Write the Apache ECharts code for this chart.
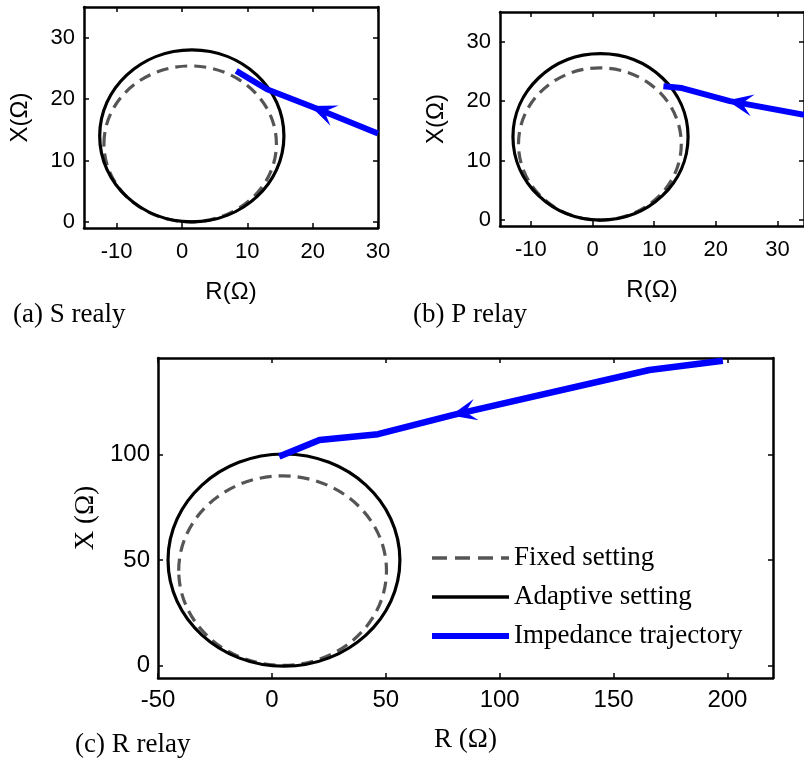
<!DOCTYPE html>
<html>
<head>
<meta charset="utf-8">
<script src="https://cdn.jsdelivr.net/npm/echarts@6/dist/echarts.min.js"></script>
<style>
html, body { margin: 0; padding: 0; background: #fff; }
#chart { width: 804px; height: 764px; }
</style>
</head>
<body>
<div id="chart"></div>
<script>
// ---------- data ----------
const xTicksA = [-10, 0, 10, 20, 30];
const yTicksA = [0, 10, 20, 30];
const xTicksB = [-10, 0, 10, 20, 30];
const yTicksB = [0, 10, 20, 30];
const xTicksC = [-50, 0, 50, 100, 150, 200];
const yTicksC = [0, 50, 100];

// circle = [centerR, centerX, radiusR, radiusX]
const fixedA = [[1.25, 12.7, 13.2, 12.7]];
const adaptiveA = [[1.5, 14.0, 14.1, 14.0]];
const fixedB = [[1.2, 12.8, 13.2, 12.8]];
const adaptiveB = [[1.3, 14.0, 14.2, 14.0]];
const fixedC = [[4.7, 45.0, 45.6, 45.0]];
const adaptiveC = [[5.3, 50.0, 50.9, 50.4]];

// impedance trajectories (start -> end)
const trajA = [[30, 14.4], [20, 18.7], [13, 21.6], [8.3, 24.6]];
const trajB = [[34.3, 17.7], [22.3, 20.0], [14.5, 22.2], [11.5, 22.5]];
const trajC = [[198, 144.7], [165.7, 140.3], [79.7, 119], [46.6, 109.8], [20.9, 107.1], [3.2, 99.2]];

// arrow head positions (centre of head)
const arrowA = [[21.5, 18.1]];
const arrowB = [[23.9, 19.7]];
const arrowC = [[84.1, 120.1]];

const legendNames = ['Fixed setting', 'Adaptive setting', 'Impedance trajectory'];
const captions = ['(a) S realy', '(b) P relay', '(c) R relay'];

// ---------- styles ----------
const SANS = "'Liberation Sans', Arial, sans-serif";
const SERIF = "'Liberation Serif', 'Times New Roman', serif";
const GRAY = '#555555';
const BLUE = '#0000ff';
const DASH = [12, 7];
const AXW = 2.5;

const chart = echarts.init(document.getElementById('chart'), null, { renderer: 'canvas' });

function xAx(grid, min, max, ticks, opts) {
  const main = {
    type: 'value', gridIndex: grid, position: 'bottom', min: min, max: max,
    axisLine: { show: true, onZero: false, lineStyle: { color: '#000', width: AXW } },
    axisTick: { show: true, inside: true, length: 5, customValues: ticks, lineStyle: { color: '#000', width: 1.5 } },
    axisLabel: { show: true, customValues: ticks, color: '#000', fontFamily: opts.font, fontSize: opts.size, margin: opts.margin },
    splitLine: { show: false },
    name: opts.name, nameLocation: 'middle', nameGap: opts.nameGap,
    nameTextStyle: { color: '#000', fontFamily: opts.nameFont, fontSize: opts.nameSize }
  };
  const top = {
    type: 'value', gridIndex: grid, position: 'top', min: min, max: max,
    axisLine: { show: true, onZero: false, lineStyle: { color: '#000', width: AXW } },
    axisTick: { show: true, inside: true, length: 5, customValues: ticks, lineStyle: { color: '#000', width: 1.5 } },
    axisLabel: { show: false }, splitLine: { show: false }
  };
  return [main, top];
}
function yAx(grid, min, max, ticks, opts) {
  const main = {
    type: 'value', gridIndex: grid, position: 'left', min: min, max: max,
    axisLine: { show: true, onZero: false, lineStyle: { color: '#000', width: AXW } },
    axisTick: { show: true, inside: true, length: 5, customValues: ticks, lineStyle: { color: '#000', width: 1.5 } },
    axisLabel: { show: true, customValues: ticks, color: '#000', fontFamily: opts.font, fontSize: opts.size, margin: opts.margin },
    splitLine: { show: false },
    name: opts.name, nameLocation: 'middle', nameGap: opts.nameGap,
    nameTextStyle: { color: '#000', fontFamily: opts.nameFont, fontSize: opts.nameSize }
  };
  const right = {
    type: 'value', gridIndex: grid, position: 'right', min: min, max: max,
    axisLine: { show: true, onZero: false, lineStyle: { color: '#000', width: AXW } },
    axisTick: { show: true, inside: true, length: 5, customValues: ticks, lineStyle: { color: '#000', width: 1.5 } },
    axisLabel: { show: false }, splitLine: { show: false }
  };
  return [main, right];
}

function circleSeries(name, data, xi, yi, style) {
  return {
    type: 'custom', name: name, xAxisIndex: xi, yAxisIndex: yi, z: 3,
    data: data, encode: { x: 0, y: 1 }, silent: true,
    renderItem: function (params, api) {
      const c = api.coord([api.value(0), api.value(1)]);
      const s = api.size([api.value(2), api.value(3)]);
      return {
        type: 'ellipse',
        shape: { cx: c[0], cy: c[1], rx: s[0], ry: s[1] },
        style: Object.assign({ fill: 'none' }, style)
      };
    }
  };
}
function trajSeries(name, data, xi, yi, w) {
  return {
    type: 'line', name: name, xAxisIndex: xi, yAxisIndex: yi, z: 5,
    data: data, symbol: 'none', clip: true, silent: true,
    lineStyle: { color: BLUE, width: w, cap: 'butt', join: 'round' },
    itemStyle: { color: BLUE }
  };
}
const ARROW = 'path://M10,0 L20,24 L10,14 L0,24 Z';
function arrowSeries(id, data, xi, yi) {
  return {
    type: 'scatter', id: id, xAxisIndex: xi, yAxisIndex: yi, z: 6, silent: true,
    data: data, symbol: ARROW, symbolSize: [22, 26], symbolRotate: 0,
    itemStyle: { color: BLUE, opacity: 1 }
  };
}

const optsAB_x = { font: SANS, size: 22, margin: 13, name: 'R(Ω)', nameGap: 52, nameFont: SANS, nameSize: 24 };
const optsAB_y = { font: SANS, size: 22, margin: 9, name: 'X(Ω)', nameGap: 52, nameFont: SANS, nameSize: 24 };
const optsC_x = { font: SANS, size: 24, margin: 10, name: 'R (Ω)', nameGap: 48, nameFont: SERIF, nameSize: 27 };
const optsC_y = { font: SANS, size: 24, margin: 8, name: 'X (Ω)', nameGap: 57, nameFont: SERIF, nameSize: 27 };

const xAxes = [].concat(
  xAx(0, -15, 30, xTicksA, optsAB_x),
  xAx(1, -15, 34.3, xTicksB, optsAB_x),
  xAx(2, -50, 220, xTicksC, optsC_x)
);
const yAxes = [].concat(
  yAx(0, -1, 35, yTicksA, optsAB_y),
  yAx(1, -1, 35, yTicksB, optsAB_y),
  yAx(2, -6, 146, yTicksC, optsC_y)
);

const fixedStyle = { stroke: GRAY, lineWidth: 3.2, lineDash: DASH };
const adaptiveStyle = { stroke: '#000', lineWidth: 3.2 };

const option = {
  animation: false,
  backgroundColor: '#fff',
  grid: [
    { left: 84, top: 7, width: 294, height: 221, containLabel: false },
    { left: 500, top: 12, width: 306, height: 214, containLabel: false },
    { left: 158, top: 358, width: 615, height: 320, containLabel: false }
  ],
  xAxis: xAxes,
  yAxis: yAxes,
  legend: {
    show: true, orient: 'vertical', left: 424, top: 538, padding: 5,
    itemWidth: 77, itemHeight: 14, itemGap: 9, selectedMode: false,
    textStyle: { color: '#000', fontFamily: SERIF, fontSize: 27, lineHeight: 30 },
    itemStyle: { opacity: 0 },
    data: [
      { name: legendNames[0], lineStyle: { width: 3.5, color: GRAY, type: [15, 8] } },
      { name: legendNames[1], lineStyle: { width: 3.5, color: '#000' } },
      { name: legendNames[2], lineStyle: { width: 6, color: BLUE } }
    ]
  },
  graphic: [
    { type: 'text', left: 13, top: 301, style: { text: captions[0], fill: '#000', font: '27px ' + SERIF } },
    { type: 'text', left: 413, top: 301, style: { text: captions[1], fill: '#000', font: '27px ' + SERIF } },
    { type: 'text', left: 75, top: 731, style: { text: captions[2], fill: '#000', font: '27px ' + SERIF } }
  ],
  series: [
    circleSeries('fixedA', fixedA, 0, 0, fixedStyle),
    circleSeries('adaptiveA', adaptiveA, 0, 0, adaptiveStyle),
    trajSeries('trajA', trajA, 0, 0, 6),
    arrowSeries('arrowA', arrowA, 0, 0),

    circleSeries('fixedB', fixedB, 2, 2, fixedStyle),
    circleSeries('adaptiveB', adaptiveB, 2, 2, adaptiveStyle),
    trajSeries('trajB', trajB, 2, 2, 6),
    arrowSeries('arrowB', arrowB, 2, 2),

    circleSeries('fixedC', fixedC, 4, 4, fixedStyle),
    circleSeries('adaptiveC', adaptiveC, 4, 4, adaptiveStyle),
    trajSeries(legendNames[2], trajC, 4, 4, 6.5),
    arrowSeries('arrowC', arrowC, 4, 4),

    // legend-only entries
    { type: 'line', name: legendNames[0], xAxisIndex: 4, yAxisIndex: 4, data: [], symbol: 'none',
      lineStyle: { color: GRAY, width: 3.5, type: [15, 8] }, itemStyle: { color: GRAY } },
    { type: 'line', name: legendNames[1], xAxisIndex: 4, yAxisIndex: 4, data: [], symbol: 'none',
      lineStyle: { color: '#000', width: 3.5 }, itemStyle: { color: '#000' } }
  ]
};
chart.setOption(option);

// orient arrow heads along the trajectory direction (pixel space)
function arrowAngle(traj, arrow, xi, yi) {
  const a = arrow[0][0];
  let i = 0;
  for (let k = 0; k < traj.length - 1; k++) {
    const lo = Math.min(traj[k][0], traj[k + 1][0]);
    const hi = Math.max(traj[k][0], traj[k + 1][0]);
    if (a >= lo && a <= hi) { i = k; break; }
  }
  const p1 = chart.convertToPixel({ xAxisIndex: xi, yAxisIndex: yi }, traj[i]);
  const p2 = chart.convertToPixel({ xAxisIndex: xi, yAxisIndex: yi }, traj[i + 1]);
  const th = Math.atan2(-(p2[1] - p1[1]), p2[0] - p1[0]) * 180 / Math.PI;
  return th - 90;
}
chart.setOption({
  series: [
    { id: 'arrowA', symbolRotate: arrowAngle(trajA, arrowA, 0, 0) },
    { id: 'arrowB', symbolRotate: arrowAngle(trajB, arrowB, 2, 2) },
    { id: 'arrowC', symbolRotate: arrowAngle(trajC, arrowC, 4, 4) }
  ]
});
</script>
</body>
</html>
